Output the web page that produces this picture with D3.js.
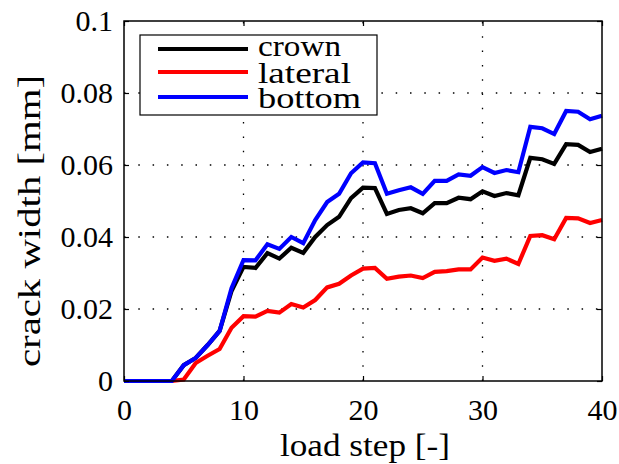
<!DOCTYPE html>
<html><head><meta charset="utf-8">
<script src="https://cdn.jsdelivr.net/npm/d3@7"></script>
<style>body{margin:0;background:#fff}svg{display:block}</style>
</head><body><div id="chart"></div>
<script>
const steps = d3.range(0, 41);
const crown = [0,0,0,0,0,0.0044,0.0064,0.0100,0.0139,0.0250,0.0317,0.0314,0.0355,0.0340,0.0370,0.0356,0.0400,0.0433,0.0456,0.0508,0.0537,0.0536,0.0464,0.0475,0.0480,0.0466,0.0494,0.0494,0.0509,0.0505,0.0527,0.0514,0.0522,0.0516,0.0620,0.0616,0.0603,0.0658,0.0656,0.0636,0.0645];
const lateral = [0,0,0,0,0,0.0004,0.0050,0.0070,0.0089,0.0148,0.0180,0.0179,0.0195,0.0190,0.0214,0.0204,0.0225,0.0260,0.0270,0.0293,0.0312,0.0314,0.0284,0.0290,0.0293,0.0286,0.0303,0.0305,0.0310,0.0310,0.0343,0.0334,0.0340,0.0325,0.0403,0.0405,0.0394,0.0453,0.0452,0.0439,0.0447];
const bottom = [0,0,0,0,0,0.0044,0.0064,0.0100,0.0139,0.0258,0.0336,0.0335,0.0380,0.0367,0.0400,0.0383,0.0447,0.0497,0.0520,0.0577,0.0607,0.0605,0.0520,0.0530,0.0538,0.0520,0.0556,0.0556,0.0574,0.0570,0.0594,0.0578,0.0586,0.0580,0.0706,0.0702,0.0686,0.0750,0.0748,0.0727,0.0737];
const seriesNames = ["crown","lateral","bottom"];
const seriesColors = ["#000000","#ff0000","#0000ff"];
const xTicks = [0,10,20,30,40];
const yTicks = [0,0.02,0.04,0.06,0.08,0.1];
const yTickLabels = ["0","0.02","0.04","0.06","0.08","0.1"];
const xLabel = "load step [-]";
const yLabel = "crack width [mm]";

const W = 619, H = 464;
const m = {left:124, right:17, top:21, bottom:83};
const FONT = "Liberation Serif";
const svg = d3.select("#chart").append("svg").attr("width",W).attr("height",H);
const x = d3.scaleLinear().domain([0,40]).range([m.left, W-m.right]);
const y = d3.scaleLinear().domain([0,0.1]).range([H-m.bottom, m.top]);

// grid
const g = svg.append("g");
g.selectAll(".gx").data(xTicks.slice(1,-1)).enter().append("line")
  .attr("x1",d=>x(d)).attr("x2",d=>x(d)).attr("y1",y(0)).attr("y2",y(0.1))
  .attr("stroke","#000").attr("stroke-width",1.3).attr("stroke-dasharray","1.5,12.8");
g.selectAll(".gy").data(yTicks.slice(1,-1)).enter().append("line")
  .attr("y1",d=>y(d)).attr("y2",d=>y(d)).attr("x1",x(0)).attr("x2",x(40))
  .attr("stroke","#000").attr("stroke-width",1.3).attr("stroke-dasharray","1.5,12.8");

// series
const data = [crown, lateral, bottom];
const line = d3.line().x((d,i)=>x(steps[i])).y(d=>y(d));
data.forEach((s,k)=>{
  svg.append("path").datum(s).attr("d",line).attr("fill","none")
    .attr("stroke",seriesColors[k]).attr("stroke-width",4.2).attr("stroke-linejoin","miter");
});

// axes (ticks inward, on all sides)
const tl = 5;
const xAxisB = d3.axisBottom(x).tickValues(xTicks).tickSizeInner(-tl).tickSizeOuter(0).tickPadding(18).tickFormat(d3.format("d"));
const xAxisT = d3.axisTop(x).tickValues(xTicks).tickSizeInner(-tl).tickSizeOuter(0).tickFormat("");
const yAxisL = d3.axisLeft(y).tickValues(yTicks).tickSizeInner(-tl).tickSizeOuter(0).tickPadding(11).tickFormat((d,i)=>yTickLabels[i]);
const yAxisR = d3.axisRight(y).tickValues(yTicks).tickSizeInner(-tl).tickSizeOuter(0).tickFormat("");
function style(sel){
  sel.select(".domain").remove();
  sel.attr("font-family",FONT).attr("font-size",30);
  sel.selectAll("line").attr("stroke","#000").attr("stroke-width",1.2);
  sel.selectAll("text").attr("fill","#000");
}
svg.append("g").attr("transform",`translate(0,${y(0)})`).call(xAxisB).call(style);
svg.append("g").attr("transform",`translate(0,${y(0.1)})`).call(xAxisT).call(style);
svg.append("g").attr("transform",`translate(${x(0)},0)`).call(yAxisL).call(style);
svg.append("g").attr("transform",`translate(${x(40)},0)`).call(yAxisR).call(style);
svg.append("rect").attr("x",x(0)).attr("y",y(0.1)).attr("width",x(40)-x(0)).attr("height",y(0)-y(0.1))
  .attr("fill","none").attr("stroke","#000").attr("stroke-width",1.5);

// labels
svg.append("text").attr("x",(x(0)+x(40))/2+2).attr("y",456).attr("text-anchor","middle")
  .attr("font-family",FONT).attr("font-size",32)
  .attr("textLength",170).attr("lengthAdjust","spacingAndGlyphs").text(xLabel);
svg.append("text").attr("transform","translate(40,221) rotate(-90)").attr("text-anchor","middle")
  .attr("font-family",FONT).attr("font-size",32)
  .attr("textLength",292).attr("lengthAdjust","spacingAndGlyphs").text(yLabel);

// legend
const lg = svg.append("g");
lg.append("rect").attr("x",140).attr("y",35).attr("width",237).attr("height",80)
  .attr("fill","#fff").attr("stroke","#000").attr("stroke-width",1.2);
const rowsY = [49, 72, 97];
const baseY = [55.5, 82.5, 108];
const legW = [83, 93, 103];
seriesNames.forEach((n,k)=>{
  lg.append("line").attr("x1",158).attr("x2",248).attr("y1",rowsY[k]).attr("y2",rowsY[k])
    .attr("stroke",seriesColors[k]).attr("stroke-width",4.2);
  lg.append("text").attr("x",258).attr("y",baseY[k]).attr("font-family",FONT).attr("font-size",30)
    .attr("textLength",legW[k]).attr("lengthAdjust","spacingAndGlyphs").text(n);
});
</script></body></html>
